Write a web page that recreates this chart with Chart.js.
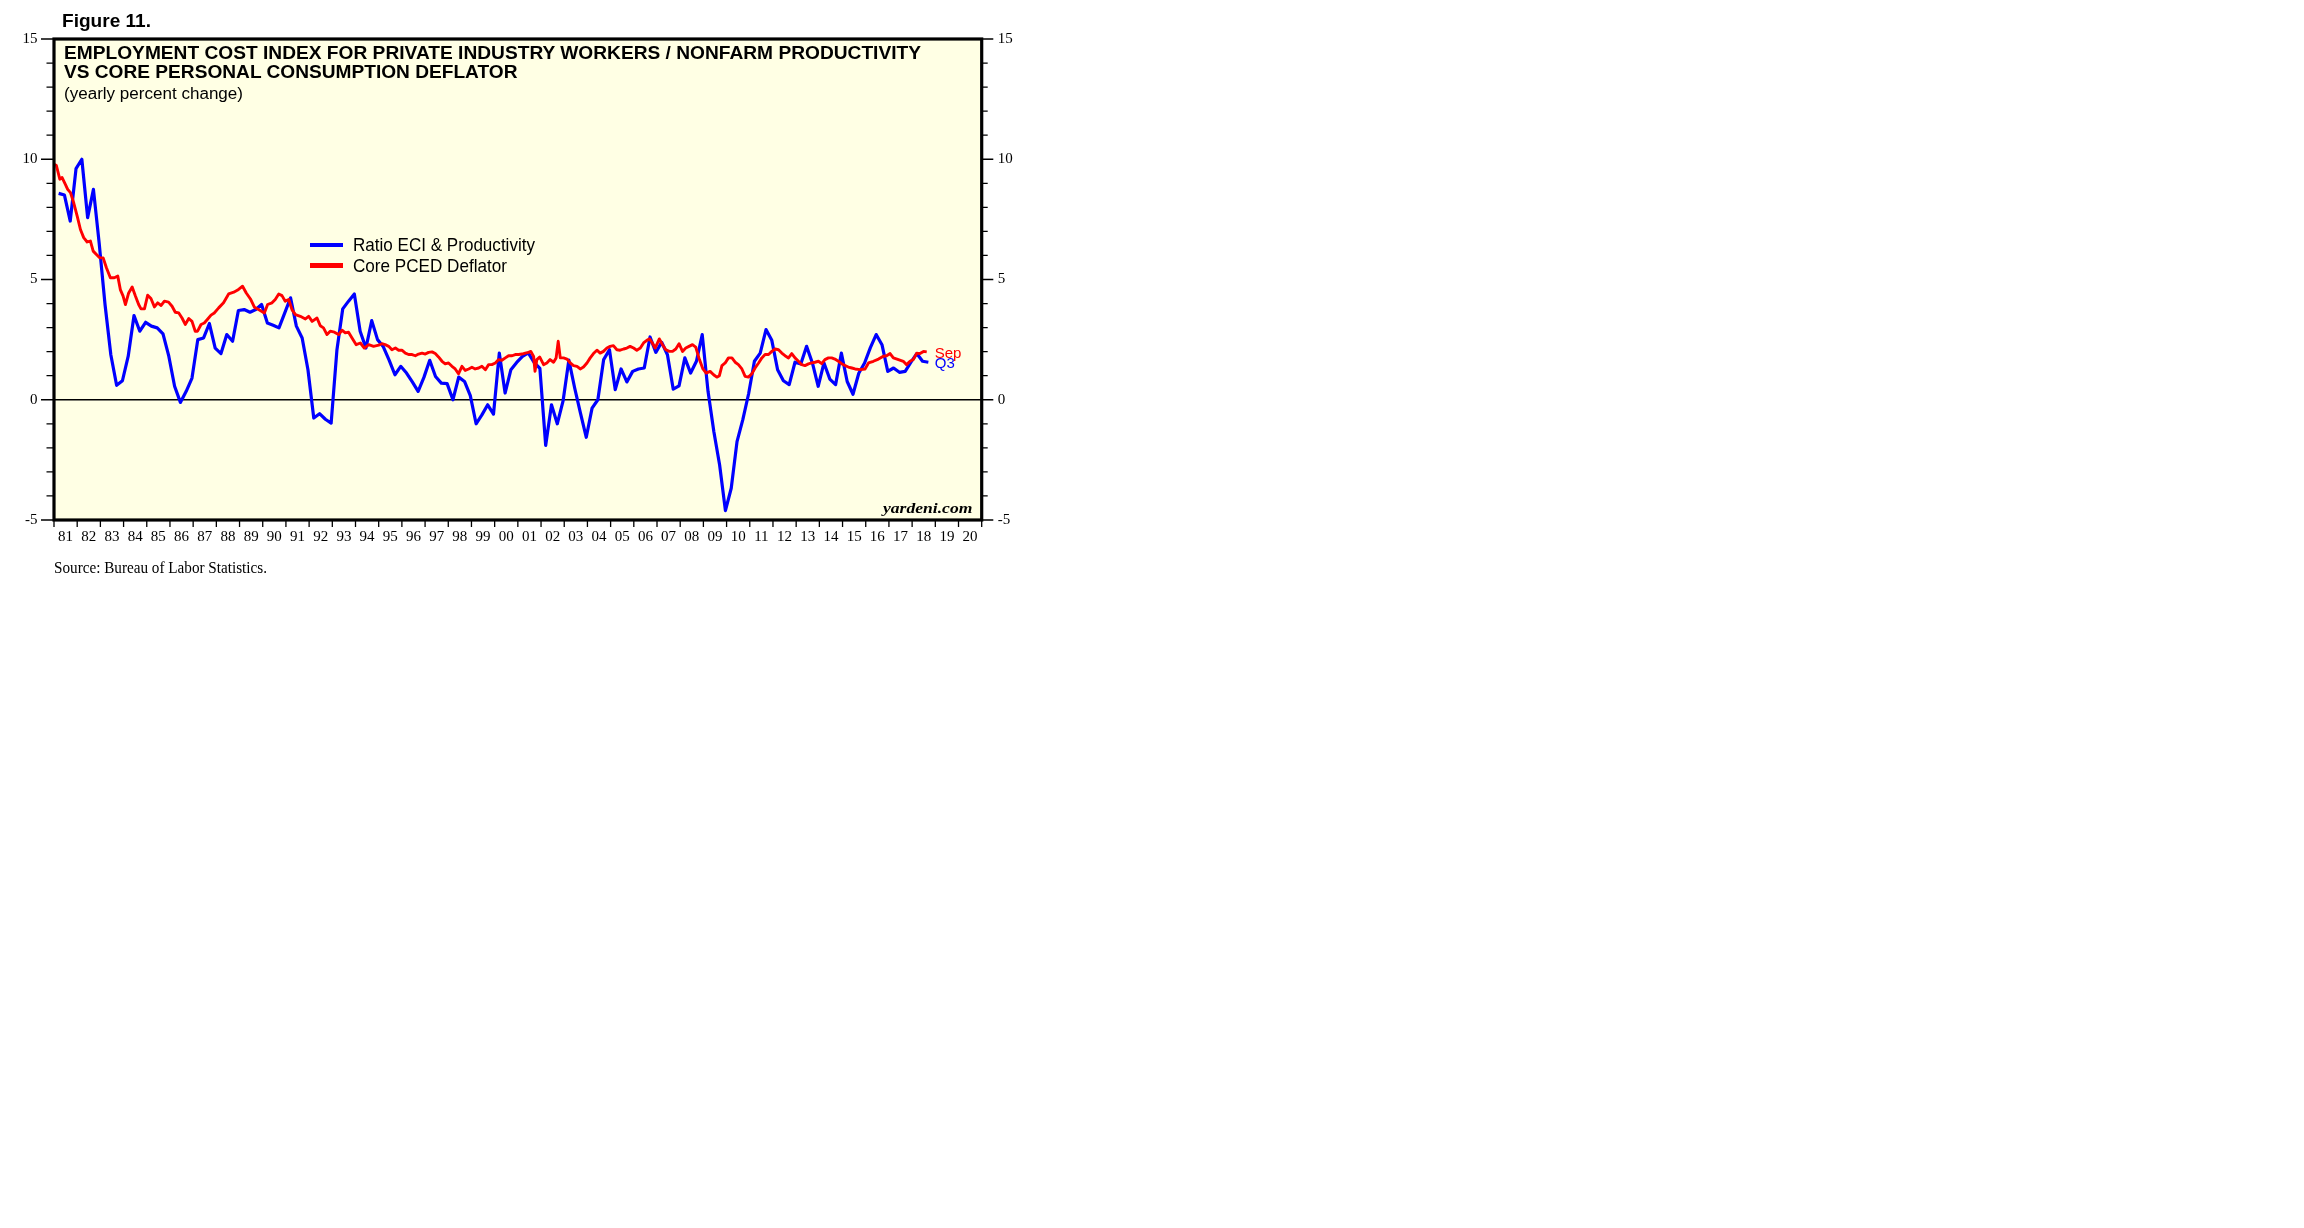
<!DOCTYPE html>
<html><head><meta charset="utf-8">
<script src="https://cdn.jsdelivr.net/npm/chart.js@4.4.1/dist/chart.umd.min.js"></script>
<style>
html,body{margin:0;padding:0;background:#fff;width:2304px;height:1228px;overflow:hidden;position:relative}
#wrap{position:absolute;left:0;top:0;width:1100px;height:640px}
canvas{position:absolute;left:0;top:0}
.t{position:absolute;white-space:nowrap;line-height:1;transform-origin:0 0;color:#000;margin:0;padding:0}
.sans{font-family:"Liberation Sans",Arial,Helvetica,sans-serif}
.serif{font-family:"Liberation Serif","Times New Roman",serif}
.sw{position:absolute;height:4.5px}
</style></head><body>
<div id="wrap"><canvas id="c" width="1100" height="640"></canvas></div>
<div class="t sans" id="fig" style="font-weight:bold">Figure 11.</div>
<div class="t sans" id="t1" style="font-weight:bold">EMPLOYMENT COST INDEX FOR PRIVATE INDUSTRY WORKERS / NONFARM PRODUCTIVITY</div>
<div class="t sans" id="t2" style="font-weight:bold">VS CORE PERSONAL CONSUMPTION DEFLATOR</div>
<div class="t sans" id="sub">(yearly percent change)</div>
<div class="sw" id="sw1" style="background:#0000ff"></div>
<div class="sw" id="sw2" style="background:#ff0000"></div>
<div class="t sans" id="lg1">Ratio ECI &amp; Productivity</div>
<div class="t sans" id="lg2">Core PCED Deflator</div>
<div class="t serif" id="yard" style="font-weight:bold;font-style:italic">yardeni.com</div>
<div class="t serif" id="src">Source: Bureau of Labor Statistics.</div>
<script>
// ---- data ----
const yearLabels = ['81','82','83','84','85','86','87','88','89','90','91','92','93','94','95','96','97','98','99','00','01','02','03','04','05','06','07','08','09','10','11','12','13','14','15','16','17','18','19','20'];

// Ratio ECI & Productivity, quarterly, 1981Q1 .. 2018Q3
const eciRatio = [
 8.58, 8.51, 7.43, 9.61, 10.0, 7.57, 8.75, 6.49, 3.96, 1.87,
 0.6, 0.79, 1.81, 3.5, 2.85, 3.22, 3.06, 2.99, 2.74, 1.81,
 0.56, -0.11, 0.35, 0.9, 2.5, 2.57, 3.17, 2.15, 1.92, 2.71,
 2.43, 3.71, 3.75, 3.64, 3.75, 3.96, 3.19, 3.1, 2.99, 3.61,
 4.24, 3.06, 2.57, 1.25, -0.76, -0.58, -0.81, -0.97, 2.08, 3.78,
 4.1, 4.4, 2.85, 2.15, 3.29, 2.5, 2.2, 1.65, 1.04, 1.39,
 1.11, 0.74, 0.35, 0.93, 1.64, 0.97, 0.69, 0.67, 0.0, 0.94,
 0.76, 0.17, -1.0, -0.63, -0.21, -0.6, 1.94, 0.28, 1.25, 1.55,
 1.8, 1.95, 1.55, 1.3, -1.9, -0.21, -1.0, -0.05, 1.65, 0.49,
 -0.56, -1.56, -0.35, 0.0, 1.67, 2.08, 0.42, 1.28, 0.74, 1.18,
 1.28, 1.32, 2.61, 1.97, 2.39, 1.87, 0.44, 0.58, 1.74, 1.11,
 1.6, 2.71, 0.35, -1.32, -2.71, -4.61, -3.68, -1.74, -0.83, 0.25,
 1.6, 1.94, 2.92, 2.47, 1.25, 0.79, 0.63, 1.56, 1.49, 2.22,
 1.53, 0.56, 1.53, 0.86, 0.63, 1.94, 0.76, 0.23, 1.1, 1.53,
 2.17, 2.71, 2.29, 1.18, 1.32, 1.14, 1.18, 1.56, 1.92, 1.6, 1.56
];

// Core PCED Deflator: dates (decimal years) and values
const pcedDates = [
 1981.0,1981.1,1981.25,1981.35,1981.49,1981.59,1981.71,1981.85,1982.0,1982.14,1982.28,1982.43,1982.57,1982.69,1982.83,1982.97,
 1983.12,1983.26,1983.43,1983.6,1983.75,1983.86,1983.98,1984.08,1984.22,1984.37,1984.51,1984.65,1984.75,1984.9,
 1985.04,1985.18,1985.33,1985.47,1985.62,1985.76,1985.94,1986.09,1986.23,1986.38,1986.52,1986.66,1986.81,1986.95,
 1987.09,1987.19,1987.34,1987.48,1987.63,1987.77,1987.91,1988.1,1988.31,1988.53,1988.75,1988.92,
 1989.13,1989.29,1989.47,1989.64,1989.82,1990.07,1990.21,1990.4,1990.54,1990.69,1990.83,1990.97,
 1991.12,1991.26,1991.41,1991.62,1991.84,1991.98,1992.13,1992.34,1992.48,1992.62,1992.77,1992.91,
 1993.09,1993.27,1993.42,1993.56,1993.7,1993.85,1994.03,1994.21,1994.38,1994.57,1994.78,
 1995.0,1995.14,1995.28,1995.43,1995.57,1995.72,1995.86,1996.0,1996.15,1996.29,1996.44,1996.58,1996.72,1996.87,
 1997.01,1997.15,1997.3,1997.44,1997.58,1997.73,1997.87,1998.01,1998.16,1998.3,1998.44,1998.59,1998.73,1998.88,
 1999.02,1999.16,1999.31,1999.45,1999.6,1999.74,1999.88,2000.03,2000.17,2000.31,2000.46,2000.6,2000.75,2000.89,
 2001.03,2001.18,2001.32,2001.46,2001.56,2001.68,2001.74,2001.82,2001.94,2002.11,2002.25,2002.39,2002.54,2002.65,2002.74,2002.83,2002.97,
 2003.12,2003.26,2003.4,2003.55,2003.69,2003.83,2003.98,2004.12,2004.26,2004.41,2004.55,2004.69,2004.84,2004.98,
 2005.12,2005.27,2005.41,2005.56,2005.7,2005.84,2005.99,2006.13,2006.28,2006.42,2006.56,2006.68,2006.78,2006.92,
 2007.1,2007.24,2007.38,2007.53,2007.67,2007.81,2007.95,2008.1,2008.24,2008.38,2008.53,2008.67,2008.83,2008.98,
 2009.12,2009.29,2009.44,2009.58,2009.69,2009.8,2009.94,2010.08,2010.23,2010.37,2010.51,2010.66,2010.8,2010.94,
 2011.09,2011.23,2011.38,2011.52,2011.66,2011.81,2011.95,2012.09,2012.24,2012.38,2012.52,2012.67,2012.81,2012.95,
 2013.1,2013.24,2013.38,2013.53,2013.67,2013.81,2013.96,2014.1,2014.24,2014.39,2014.53,2014.67,2014.82,2014.96,
 2015.11,2015.25,2015.4,2015.54,2015.76,2015.97,2016.12,2016.33,2016.55,2016.76,2016.9,2017.05,2017.19,2017.41,
 2017.62,2017.76,2017.91,2018.05,2018.2,2018.34,2018.49,2018.63
];
const pcedValues = [
 9.79,9.75,9.17,9.24,8.96,8.75,8.61,8.19,7.64,7.08,6.74,6.56,6.6,6.18,6.04,5.9,
 5.9,5.49,5.07,5.07,5.14,4.58,4.31,3.96,4.44,4.69,4.31,3.96,3.78,3.78,
 4.35,4.21,3.86,4.03,3.92,4.1,4.06,3.89,3.64,3.61,3.4,3.13,3.38,3.26,
 2.85,2.85,3.13,3.19,3.36,3.52,3.61,3.82,4.03,4.4,4.47,4.56,
 4.72,4.44,4.19,3.85,3.75,3.61,3.96,4.03,4.17,4.4,4.33,4.1,
 4.17,3.75,3.54,3.47,3.36,3.47,3.26,3.4,3.08,2.99,2.71,2.85,
 2.81,2.71,2.89,2.78,2.81,2.57,2.29,2.36,2.15,2.29,2.22,
 2.27,2.33,2.29,2.22,2.08,2.15,2.06,2.06,1.94,1.88,1.88,1.83,1.9,1.94,
 1.9,1.97,1.99,1.92,1.78,1.6,1.49,1.53,1.39,1.28,1.08,1.39,1.22,1.28,
 1.35,1.28,1.32,1.39,1.25,1.46,1.46,1.53,1.67,1.64,1.74,1.83,1.83,1.88,
 1.88,1.9,1.94,1.97,2.01,1.8,1.18,1.67,1.78,1.46,1.53,1.67,1.56,1.74,2.43,1.74,1.74,
 1.69,1.53,1.42,1.39,1.28,1.36,1.53,1.74,1.92,2.06,1.94,2.01,2.15,2.22,
 2.25,2.08,2.06,2.11,2.15,2.22,2.15,2.06,2.15,2.36,2.47,2.53,2.39,2.15,
 2.53,2.29,2.08,2.01,2.01,2.11,2.33,2.01,2.15,2.22,2.29,2.19,1.67,1.28,
 1.11,1.18,1.04,0.94,1.0,1.42,1.53,1.74,1.74,1.56,1.46,1.28,0.97,0.94,
 1.08,1.32,1.53,1.74,1.88,1.88,2.01,2.11,2.08,1.94,1.83,1.74,1.92,1.74,
 1.6,1.46,1.42,1.49,1.53,1.56,1.6,1.5,1.67,1.74,1.74,1.69,1.6,1.5,
 1.42,1.36,1.32,1.28,1.25,1.28,1.53,1.6,1.69,1.81,1.83,1.92,1.74,1.67,
 1.6,1.46,1.6,1.67,1.94,1.92,2.01,1.99
];

// quarter positions (last month of each quarter)
const eciDates = eciRatio.map((v, k) => 1981 + Math.floor(k / 4) + ((k % 4) * 3 + 2.4) / 12);

const BG = '#ffffe4';

const deco = {
  id: 'deco',
  beforeDraw(chart) {
    const {ctx, chartArea: a} = chart;
    ctx.save();
    ctx.fillStyle = BG;
    ctx.fillRect(a.left, a.top, a.right - a.left, a.bottom - a.top);
    ctx.restore();
  },
  beforeDatasetsDraw(chart) {
    const {ctx, chartArea: a, scales} = chart;
    const y0 = scales.y.getPixelForValue(0);
    ctx.save();
    ctx.strokeStyle = '#000';
    ctx.lineWidth = 1.5;
    ctx.beginPath();
    ctx.moveTo(a.left, y0); ctx.lineTo(a.right, y0);
    ctx.stroke();
    ctx.restore();
  },
  afterDatasetsDraw(chart) {
    const {ctx, chartArea: a, scales} = chart;
    ctx.save();
    ctx.strokeStyle = '#000';
    ctx.lineWidth = 1.3;
    ctx.beginPath();
    for (let v = -5; v <= 15; v++) {
      const py = scales.y.getPixelForValue(v);
      const major = v % 5 === 0;
      ctx.moveTo(a.left - (major ? 13 : 7.5), py); ctx.lineTo(a.left, py);
      ctx.moveTo(a.right, py); ctx.lineTo(a.right + (major ? 11.6 : 6), py);
    }
    for (let yr = 1981; yr <= 2021; yr++) {
      const px = scales.x.getPixelForValue(yr);
      ctx.moveTo(px, a.bottom); ctx.lineTo(px, a.bottom + 7);
    }
    ctx.stroke();
    ctx.lineWidth = 3.2;
    ctx.strokeRect(a.left, a.top, a.right - a.left, a.bottom - a.top);
    // end labels
    ctx.font = '15px "Liberation Sans", Arial, sans-serif';
    ctx.textBaseline = 'alphabetic';
    ctx.textAlign = 'left';
    const lastR = pcedDates.length - 1, lastB = eciRatio.length - 1;
    ctx.fillStyle = '#ff0000';
    ctx.fillText('Sep', scales.x.getPixelForValue(pcedDates[lastR]) + 8, scales.y.getPixelForValue(pcedValues[lastR]) + 6);
    ctx.fillStyle = '#0000ff';
    ctx.fillText('Q3', scales.x.getPixelForValue(eciDates[lastB]) + 6.5, scales.y.getPixelForValue(eciRatio[lastB]) + 6);
    ctx.restore();
  }
};

const serifTick = {family: '"Liberation Serif", "Times New Roman", serif', size: 15};

new Chart(document.getElementById('c'), {
  type: 'line',
  data: {
    datasets: [
      {label: 'Core PCED Deflator', data: pcedDates.map((x, i) => ({x, y: pcedValues[i]})),
       borderColor: '#ff0000', borderWidth: 2.9, pointRadius: 0, tension: 0, borderJoinStyle: 'round', yAxisID: 'y'},
      {label: 'Ratio ECI & Productivity', data: eciDates.map((x, i) => ({x, y: eciRatio[i]})),
       borderColor: '#0000ff', borderWidth: 3.2, pointRadius: 0, tension: 0, borderJoinStyle: 'round', yAxisID: 'y'}
    ]
  },
  options: {
    responsive: false, animation: false, devicePixelRatio: 1,
    layout: {padding: {left: 0, top: 39, right: 1100 - 981.7 - 50, bottom: 640 - 520 - 40}},
    plugins: {legend: {display: false}, tooltip: {enabled: false}, title: {display: false}},
    scales: {
      x: {
        type: 'linear', min: 1981, max: 2021, position: 'bottom',
        afterBuildTicks: s => { s.ticks = yearLabels.map((l, i) => ({value: 1981.5 + i})); },
        ticks: {autoSkip: false, maxRotation: 0, minRotation: 0, font: serifTick, color: '#000', padding: 8,
                callback: (v, i) => yearLabels[i]},
        grid: {display: false, drawTicks: false}, border: {display: false},
        afterFit: s => { s.height = 40; }
      },
      y: {
        type: 'linear', min: -5, max: 15, position: 'left',
        ticks: {stepSize: 5, font: serifTick, color: '#000', padding: 16.5},
        grid: {display: false, drawTicks: false}, border: {display: false},
        afterFit: s => { s.width = 54; }
      },
      y2: {
        type: 'linear', min: -5, max: 15, position: 'right', display: true,
        ticks: {stepSize: 5, font: serifTick, color: '#000', padding: 16},
        grid: {display: false, drawTicks: false}, border: {display: false},
        afterFit: s => { s.width = 50; }
      }
    }
  },
  plugins: [deco]
});

function place(id, x, base, w, size, asc) {
  const el = document.getElementById(id);
  el.style.fontSize = size + 'px';
  el.style.left = x + 'px';
  el.style.top = (base - asc * size) + 'px';
  if (w) {
    const cw = el.getBoundingClientRect().width;
    el.style.transform = 'scaleX(' + (w / cw) + ')';
  }
}
const SA = 0.8465, SE = 0.8375;
place('fig', 62.4, 27.7, 89, 18.5, SA);
place('t1', 64.3, 60, 857, 18.5, SA);
place('t2', 64.3, 78.3, 453.5, 18.5, SA);
place('sub', 64.3, 100, 179, 16, SA);
place('lg1', 352.8, 251.7, 182, 18.5, SA);
place('lg2', 352.8, 272.7, 154, 18.5, SA);
place('yard', 883.3, 513.3, 89.4, 15, SE);
place('src', 53.6, 573.3, 213, 16, SE);
const s1 = document.getElementById('sw1'), s2 = document.getElementById('sw2');
s1.style.left = '310px'; s1.style.top = (245 - 2.25) + 'px'; s1.style.width = '33px';
s2.style.left = '310px'; s2.style.top = (265.7 - 2.25) + 'px'; s2.style.width = '33px';
</script>
</body></html>
